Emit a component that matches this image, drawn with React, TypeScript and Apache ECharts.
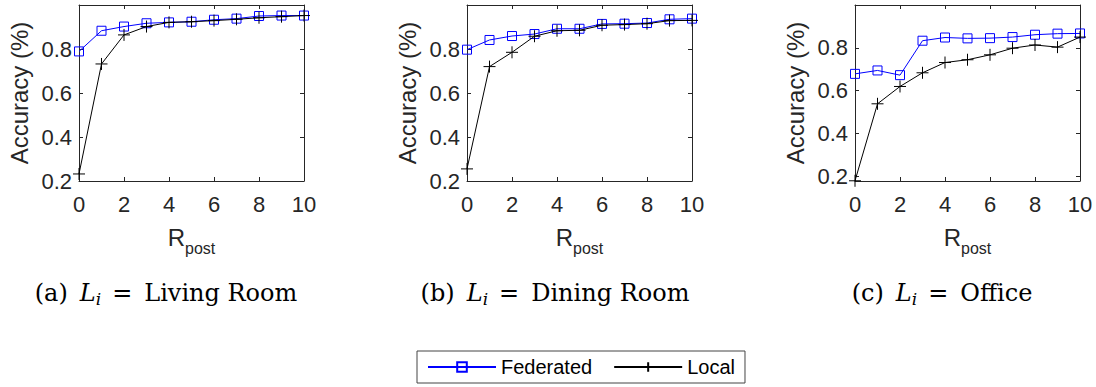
import React, { useEffect, useRef } from "react";
import * as echarts from "echarts";

// Number of post-training rounds on the x axis
const rpost = [0, 1, 2, 3, 4, 5, 6, 7, 8, 9, 10];

// Accuracy per round, Living Room
const livingFederated = [0.789, 0.883, 0.902, 0.917, 0.921, 0.924, 0.933, 0.938, 0.95, 0.952, 0.952];
const livingLocal = [0.232, 0.732, 0.864, 0.902, 0.921, 0.924, 0.929, 0.935, 0.942, 0.947, 0.952];

// Accuracy per round, Dining Room
const diningFederated = [0.797, 0.841, 0.859, 0.868, 0.892, 0.892, 0.914, 0.915, 0.918, 0.935, 0.938];
const diningLocal = [0.255, 0.72, 0.785, 0.858, 0.883, 0.885, 0.908, 0.911, 0.915, 0.929, 0.93];

// Accuracy per round, Office
const officeFederated = [0.678, 0.694, 0.672, 0.833, 0.848, 0.844, 0.845, 0.85, 0.861, 0.866, 0.867];
const officeLocal = [0.178, 0.538, 0.619, 0.683, 0.731, 0.744, 0.767, 0.798, 0.813, 0.803, 0.85];

const seriesNames = ["Federated", "Local"];
const yTickLabels = ["0.2", "0.4", "0.6", "0.8"];
const captionPrefixes = ["(a)", "(b)", "(c)"];
const captionRooms = ["Living Room", "Dining Room", "Office"];
const yMins = [0.2, 0.2, 0.177];

const panels = [
  { federated: livingFederated, local: livingLocal },
  { federated: diningFederated, local: diningLocal },
  { federated: officeFederated, local: officeLocal },
];

const AXIS_COLOR = "#262626";
const SANS = "'Liberation Sans', Arial, Helvetica, sans-serif";
const SERIF = "'DejaVu Serif', 'Liberation Serif', serif";
const PLUS = "path://M5,0L5,10M0,5L10,5";

const GRID_LEFTS = [79, 467, 855];
const GRID_TOP = 5;
const GRID_W = 225;
const GRID_H = 176;
const CAPTION_CENTERS = [166, 555, 942];

function buildOption() {
  const grid: any[] = [];
  const xAxis: any[] = [];
  const yAxis: any[] = [];
  const series: any[] = [];
  const graphic: any[] = [];

  panels.forEach((p, i) => {
    grid.push({ left: GRID_LEFTS[i], top: GRID_TOP, width: GRID_W, height: GRID_H, containLabel: false });

    const tick = { show: true, inside: true, length: 4, lineStyle: { color: AXIS_COLOR, width: 1 } };
    const line = { show: true, onZero: false, lineStyle: { color: AXIS_COLOR, width: 1 } };

    // bottom x axis with labels and the R_post name
    xAxis.push({
      gridIndex: i,
      type: "value",
      position: "bottom",
      min: 0,
      max: 10,
      interval: 2,
      axisLine: line,
      axisTick: tick,
      splitLine: { show: false },
      axisLabel: { color: AXIS_COLOR, fontSize: 22, fontFamily: SANS, margin: 12 },
      name: "{r|R}{p|post}",
      nameLocation: "middle",
      nameGap: 44,
      nameTextStyle: {
        rich: {
          r: { fontSize: 24, fontFamily: SANS, color: AXIS_COLOR, verticalAlign: "top", lineHeight: 24 },
          p: { fontSize: 16, fontFamily: SANS, color: AXIS_COLOR, verticalAlign: "bottom", padding: [15, 0, 0, 0] },
        },
      },
    });
    // top x axis, mirror ticks only
    xAxis.push({
      gridIndex: i,
      type: "value",
      position: "top",
      min: 0,
      max: 10,
      interval: 2,
      axisLine: line,
      axisTick: tick,
      splitLine: { show: false },
      axisLabel: { show: false },
    });

    const yMin = yMins[i];
    const fmt = (v: number) => {
      const s = v.toFixed(1);
      return Math.abs(v - Math.round(v * 5) / 5) < 1e-6 && yTickLabels.includes(s) ? s : "";
    };
    yAxis.push({
      gridIndex: i,
      type: "value",
      position: "left",
      min: yMin,
      max: 1.0,
      splitNumber: 4,
      axisLine: line,
      axisTick: tick,
      splitLine: { show: false },
      axisLabel: { color: AXIS_COLOR, fontSize: 22, fontFamily: SANS, margin: 7, formatter: fmt, showMinLabel: true, showMaxLabel: true },
      name: "Accuracy (%)",
      nameLocation: "middle",
      nameRotate: 90,
      nameGap: 48,
      nameTextStyle: { fontSize: 24, fontFamily: SANS, color: AXIS_COLOR },
    });
    yAxis.push({
      gridIndex: i,
      type: "value",
      position: "right",
      min: yMin,
      max: 1.0,
      splitNumber: 4,
      axisLine: line,
      axisTick: tick,
      splitLine: { show: false },
      axisLabel: { show: false },
    });

    series.push({
      name: seriesNames[0],
      type: "line",
      xAxisIndex: 2 * i,
      yAxisIndex: 2 * i,
      data: rpost.map((x, k) => [x, p.federated[k]]),
      symbol: "rect",
      symbolSize: 9,
      showAllSymbol: true,
      lineStyle: { color: "#0000ff", width: 1 },
      itemStyle: { color: "transparent", borderColor: "#0000ff", borderWidth: 1 },
      z: 2,
    });
    series.push({
      name: seriesNames[1],
      type: "line",
      xAxisIndex: 2 * i,
      yAxisIndex: 2 * i,
      data: rpost.map((x, k) => [x, p.local[k]]),
      symbol: PLUS,
      symbolSize: 12,
      showAllSymbol: true,
      lineStyle: { color: "#000000", width: 1 },
      itemStyle: { color: "transparent", borderColor: "#000000", borderWidth: 1 },
      z: 3,
    });

    // sub-figure caption: (x) L_i = Room
    graphic.push({
      type: "text",
      x: CAPTION_CENTERS[i],
      y: 281,
      style: {
        text: `{n|${captionPrefixes[i]}}{it|L}{s|i}{eq|=}{n|${captionRooms[i]}}`,
        align: "center",
        rich: {
          n: { fontSize: 24, fontFamily: SERIF, fill: "#000", verticalAlign: "top", lineHeight: 25 },
          it: { fontSize: 24, fontFamily: SERIF, fontStyle: "italic", fill: "#000", verticalAlign: "top", lineHeight: 25, padding: [0, 0, 0, 12] },
          s: { fontSize: 17, fontFamily: SERIF, fontStyle: "italic", fill: "#000", verticalAlign: "bottom", padding: [9, 0, 0, 0] },
          eq: { fontSize: 24, fontFamily: SERIF, fill: "#000", verticalAlign: "top", lineHeight: 25, padding: [0, 12, 0, 11] },
        },
      },
    });
  });

  return {
    animation: false,
    backgroundColor: "#ffffff",
    grid,
    xAxis,
    yAxis,
    series,
    graphic,
    legend: {
      data: seriesNames,
      left: 417,
      top: 351,
      orient: "horizontal",
      itemWidth: 68,
      itemHeight: 12,
      itemGap: 21,
      padding: [6, 10, 6, 10],
      borderColor: "#444444",
      borderWidth: 1,
      borderRadius: 0,
      textStyle: { fontSize: 20, fontFamily: SANS, color: "#000" },
    },
  };
}

export default function App() {
  const ref = useRef<HTMLDivElement>(null);
  useEffect(() => {
    document.body.style.margin = "0";
    const chart = echarts.init(ref.current!, undefined, { renderer: "svg" });
    chart.setOption(buildOption() as any);
    return () => chart.dispose();
  }, []);
  return <div ref={ref} style={{ width: 1096, height: 387 }} />;
}
